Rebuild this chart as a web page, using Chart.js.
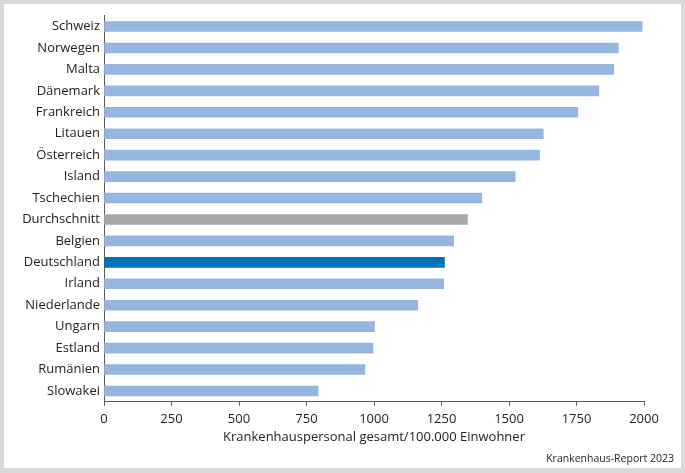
<!DOCTYPE html>
<html>
<head>
<meta charset="utf-8">
<script src="https://cdn.jsdelivr.net/npm/chart.js@4"></script>
<style>
  html, body { margin: 0; padding: 0; }
  body { width: 685px; height: 473px; background: #d9d9d9; position: relative; overflow: hidden; }
  #panel { position: absolute; left: 4px; top: 4px; width: 677px; height: 464px; background: #ffffff; }
  #c { position: absolute; left: 0; top: 0; }
  #note { position: absolute; right: 7px; top: 447px; font-family: "Open Sans", sans-serif; font-size: 10.5px; color: #222; white-space: nowrap; }
</style>
</head>
<body>
<div id="panel">
  <canvas id="c" width="677" height="464"></canvas>
  <div id="note">Krankenhaus-Report 2023</div>
</div>
<script>
const categories = ["Schweiz","Norwegen","Malta","Dänemark","Frankreich","Litauen","Österreich","Island","Tschechien","Durchschnitt","Belgien","Deutschland","Irland","Niederlande","Ungarn","Estland","Rumänien","Slowakei"];
const values = [1993, 1905, 1888, 1833, 1755, 1627, 1613, 1523, 1399, 1346, 1295, 1261, 1258, 1162, 1002, 996, 966, 793];
const xTicks = [0, 250, 500, 750, 1000, 1250, 1500, 1750, 2000];
const axisTitle = "Krankenhauspersonal gesamt/100.000 Einwohner";

const colors = categories.map(c => c === "Deutschland" ? "#0072bc" : (c === "Durchschnitt" ? "#a7a8ab" : "#95b6e0"));

new Chart(document.getElementById("c"), {
  type: "bar",
  data: {
    labels: categories,
    datasets: [{
      data: values,
      backgroundColor: colors,
      borderWidth: 0,
      barThickness: 10
    }]
  },
  options: {
    indexAxis: "y",
    responsive: false,
    animation: false,
    devicePixelRatio: 1,
    layout: { padding: { left: 0, top: 9, right: 37, bottom: 0 } },
    plugins: { legend: { display: false }, tooltip: { enabled: false } },
    scales: {
      x: {
        min: 0, max: 2000,
        afterBuildTicks: s => { s.ticks = xTicks.map(v => ({ value: v })); },
        afterFit: s => { s.height = 66.3; },
        grid: { drawOnChartArea: false, drawTicks: true, tickLength: 4, color: "#5a5a5a", lineWidth: 1 },
        border: { display: true, color: "#5a5a5a", width: 1 },
        ticks: { color: "#222", padding: 6, font: { family: "Open Sans", size: 13 }, maxRotation: 0, autoSkip: false,
                 callback: v => String(v) },
        title: { display: true, text: axisTitle, color: "#222", font: { family: "Open Sans", size: 13 }, padding: { top: 0, bottom: 23 } }
      },
      y: {
        afterFit: s => { s.width = 100; },
        grid: { display: false, drawTicks: false, tickLength: 0 },
        border: { display: true, color: "#5a5a5a", width: 1 },
        ticks: { color: "#222", padding: 4, font: { family: "Open Sans", size: 13 }, autoSkip: false }
      }
    }
  }
});
</script>
</body>
</html>
